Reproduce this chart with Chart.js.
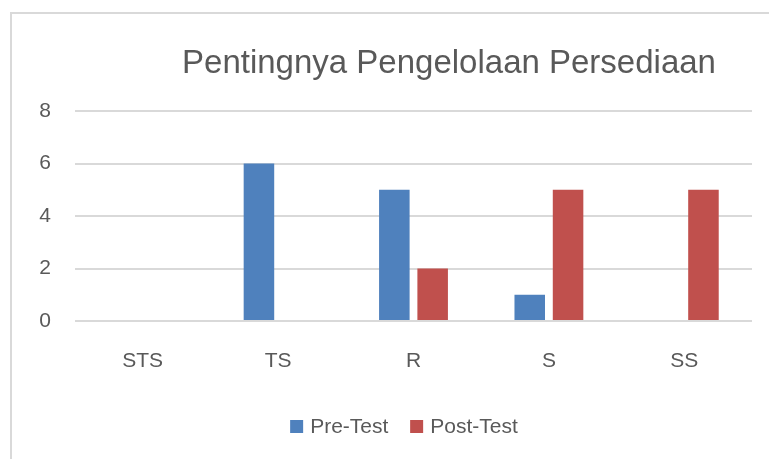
<!DOCTYPE html>
<html>
<head>
<meta charset="utf-8">
<script src="https://cdn.jsdelivr.net/npm/chart.js@4"></script>
<style>
    body { margin: 0; background: #fff; font-family: "Liberation Sans", Arial, sans-serif; }
    #wrap { position: relative; width: 769px; height: 459px; overflow: hidden; }
    #frame { position: absolute; left: 10px; top: 12px; width: 800px; height: 500px;
             border-left: 2px solid #d9d9d9; border-top: 2px solid #d9d9d9; }
    #chart { position: absolute; left: 0; top: 0; }
    #title { position: absolute; left: 449px; top: 45px; transform: translateX(-50%);
             font-size: 33px; line-height: 33px; color: #595959; white-space: nowrap; }
    #legend { position: absolute; left: 404px; top: 414px; transform: translateX(-50%);
              display: flex; align-items: center; font-size: 21px; color: #595959; white-space: nowrap; }
    #legend span.box { display: inline-block; width: 13px; height: 13px; margin-right: 7px; }
    #legend span.item { display: flex; align-items: center; margin-right: 22px; }
    #legend span.item:last-child { margin-right: 0; }
</style>
</head>
<body>
<div id="wrap">
    <div id="frame"></div>
    <canvas id="chart" width="769" height="459"></canvas>
    <div id="title"></div>
    <div id="legend"></div>
</div>
<script>
const chartTitle = 'Pentingnya Pengelolaan Persediaan';
const categories = ['STS', 'TS', 'R', 'S', 'SS'];
const seriesNames = ['Pre-Test', 'Post-Test'];
const preTest = [0, 6, 5, 1, 0];
const postTest = [0, 0, 2, 5, 5];
const seriesColors = ['#4f81bd', '#c0504d'];

document.getElementById('title').textContent = chartTitle;

const textColor = '#595959';
const gridColor = '#d9d9d9';

const chart = new Chart(document.getElementById('chart'), {
    type: 'bar',
    data: {
        labels: categories,
        datasets: [
            { label: seriesNames[0], data: preTest, backgroundColor: seriesColors[0] },
            { label: seriesNames[1], data: postTest, backgroundColor: seriesColors[1] }
        ]
    },
    options: {
        responsive: false,
        animation: false,
        categoryPercentage: 0.566,
        barPercentage: 0.797,
        layout: { padding: { left: 0, right: 17, top: 111, bottom: 0 } },
        plugins: {
            legend: { display: false },
            title: { display: false },
            tooltip: { enabled: false }
        },
        scales: {
            x: {
                grid: { display: false, drawTicks: false },
                border: { display: false },
                ticks: { color: textColor, font: { family: 'Liberation Sans', size: 21 }, padding: 28 },
                afterFit: (scale) => { scale.height = 138; }
            },
            y: {
                min: 0,
                max: 8,
                ticks: { stepSize: 2, color: textColor, font: { family: 'Liberation Sans', size: 21 }, padding: 24 },
                grid: { color: gridColor, lineWidth: 2, drawTicks: false },
                border: { display: false },
                afterFit: (scale) => { scale.width = 75; }
            }
        }
    }
});

//legend built from the chart's own datasets
const legendEl = document.getElementById('legend');
chart.data.datasets.forEach((ds) => {
    const item = document.createElement('span');
    item.className = 'item';
    const box = document.createElement('span');
    box.className = 'box';
    box.style.background = ds.backgroundColor;
    item.appendChild(box);
    item.appendChild(document.createTextNode(ds.label));
    legendEl.appendChild(item);
});
</script>
</body>
</html>
